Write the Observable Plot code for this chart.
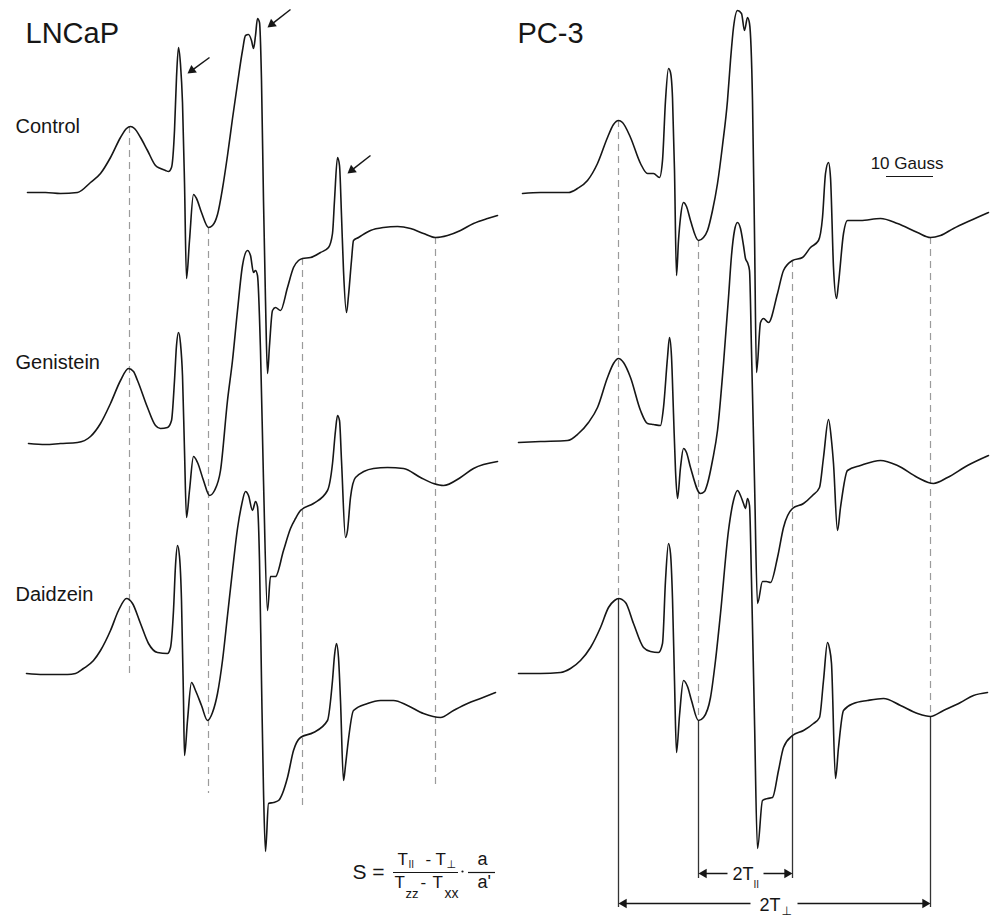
<!DOCTYPE html>
<html><head><meta charset="utf-8">
<script src="https://cdn.jsdelivr.net/npm/d3@7"></script>
<script src="https://cdn.jsdelivr.net/npm/@observablehq/plot@0.6"></script>
<style>html,body{margin:0;padding:0;background:#fff;} #chart{width:992px;height:916px;}</style>
</head><body><div id="chart"></div>
<script>
// ---------- DATA ----------
const panels = ["LNCaP", "PC-3"];
const treatments = ["Control", "Genistein", "Daidzein"];
// stacking level (baseline) of each spectrum, a.u.
const stackLNCaP = [724, 473, 242];
const stackPC3 = [724, 475, 243];
const labelLevels = [784, 548, 316];

// each spectrum: [field (a.u.), signal relative to its own baseline (a.u.)]
const lncapControl = [[27,0],[45,0],[60,-1],[77,0],[90,10],[100,19],[110,35],[120,55],[126,64],[130,66],[134,64],[140,55],[147,42],[155,27],[160,24],[165,22],[168,21],[171,25],[174,62],[176,115],[178,145],[180,128],[182,90],[184,10],[186,-86],[189,-48],[193,-2],[196,-6],[201,-20],[208,-35],[212,-33],[217,-22],[222,4],[227,37],[232,74],[237,109],[242,142],[245,157],[248,158],[251,152],[253,144],[255,157],[257,174],[259,170],[261,112],[263,-8],[265,-108],[267,-181],[269,-153],[272,-118],[275,-115],[280,-118],[287,-95],[293,-75],[298,-68],[302,-66],[310,-65],[320,-60],[328,-55],[332,-41],[334,-8],[337,35],[339,27],[341,-23],[343,-78],[346,-120],[348,-103],[351,-68],[353,-48],[358,-45],[370,-38],[383,-35],[397,-34],[410,-36],[423,-41],[435,-45],[447,-43],[460,-38],[473,-31],[487,-26],[497,-23]];
const lncapGenistein = [[28,0],[45,-1],[60,0],[77,1],[90,7],[100,20],[110,40],[120,63],[128,75],[133,72],[137,63],[147,36],[155,18],[160,15],[167,16],[171,23],[174,63],[176,98],[178,111],[180,100],[182,68],[184,-7],[186,-74],[189,-47],[193,-13],[197,-19],[203,-37],[209,-52],[214,-47],[220,-27],[227,43],[232,83],[237,133],[242,178],[247,193],[250,188],[253,171],[255,173],[257,168],[260,93],[263,-37],[267,-167],[270,-133],[275,-133],[283,-107],[290,-85],[295,-75],[300,-67],[313,-60],[327,-47],[332,-20],[335,13],[337,28],[339,23],[341,-17],[345,-94],[347,-87],[350,-54],[355,-34],[373,-25],[387,-24],[403,-25],[420,-34],[433,-40],[443,-42],[460,-34],[473,-25],[497,-18]];
const lncapDaidzein = [[26,1],[43,0],[67,0],[75,1],[83,6],[93,14],[100,24],[110,44],[118,64],[126,76],[132,71],[140,51],[148,31],[157,22],[167,21],[170,27],[173,64],[175,109],[177,129],[179,118],[181,74],[183,-26],[184,-81],[187,-46],[191,-8],[195,-16],[201,-31],[207,-46],[212,-38],[217,-19],[222,14],[227,59],[232,104],[237,146],[241,169],[245,183],[248,179],[252,164],[255,173],[257,168],[259,114],[261,-6],[263,-116],[265,-177],[268,-129],[273,-128],[278,-126],[287,-103],[293,-76],[300,-63],[313,-58],[327,-46],[332,-6],[334,19],[336,31],[338,17],[340,-26],[343,-106],[345,-91],[347,-73],[353,-36],[367,-29],[380,-26],[393,-26],[407,-31],[423,-39],[440,-43],[453,-36],[467,-29],[480,-24],[495,-18]];
const pc3Control = [[26,-1],[44,0],[72,0],[81,4],[91,12],[101,29],[111,55],[117,68],[122,72],[126,70],[134,55],[144,29],[151,19],[157,19],[163,15],[166,32],[169,92],[172,124],[174,120],[176,95],[178,22],[180,-83],[182,-48],[184,-25],[187,-10],[190,-14],[194,-28],[202,-48],[207,-45],[211,-38],[216,-18],[221,9],[226,47],[231,92],[234,132],[237,165],[241,182],[245,179],[248,162],[251,175],[253,169],[256,92],[258,-41],[260,-180],[264,-130],[267,-126],[272,-130],[281,-101],[287,-78],[296,-68],[306,-65],[314,-55],[322,-48],[326,-25],[329,19],[332,30],[334,15],[337,-75],[340,-106],[342,-91],[347,-41],[351,-28],[364,-28],[384,-26],[401,-31],[421,-40],[434,-45],[444,-43],[457,-36],[474,-28],[492,-20]];
const pc3Genistein = [[22,-1],[44,0],[71,1],[82,8],[92,19],[101,34],[111,64],[117,78],[122,83],[127,79],[134,64],[144,31],[151,18],[157,17],[164,16],[167,34],[171,84],[173,104],[175,85],[177,28],[179,-29],[181,-57],[184,-26],[187,-7],[190,-11],[194,-26],[204,-52],[208,-50],[211,-42],[216,-19],[221,11],[227,78],[232,144],[235,186],[238,211],[241,219],[244,213],[247,196],[249,183],[251,179],[253,171],[255,91],[258,-39],[261,-162],[266,-140],[270,-140],[274,-141],[281,-116],[287,-86],[296,-67],[307,-62],[316,-54],[323,-46],[327,-16],[332,22],[335,1],[337,-22],[341,-89],[344,-66],[351,-29],[364,-24],[384,-19],[401,-24],[421,-36],[437,-42],[451,-36],[471,-24],[492,-14]];
const pc3Daidzein = [[22,0],[44,0],[64,1],[74,5],[84,13],[94,26],[104,46],[112,66],[118,73],[122,75],[129,71],[137,50],[147,26],[154,22],[162,21],[166,30],[169,93],[172,130],[174,120],[176,75],[178,-7],[180,-79],[183,-42],[187,-7],[191,-13],[195,-27],[202,-47],[207,-44],[214,-24],[219,13],[224,60],[232,143],[237,173],[241,183],[244,178],[247,170],[249,165],[251,175],[253,168],[255,93],[258,-47],[261,-175],[266,-127],[271,-125],[276,-124],[282,-97],[287,-74],[296,-62],[307,-57],[317,-50],[323,-44],[327,-7],[331,31],[333,25],[335,10],[339,-105],[342,-74],[347,-37],[357,-30],[371,-27],[387,-25],[404,-32],[421,-40],[434,-43],[447,-37],[464,-29],[477,-22],[491,-19]];

// dashed guide lines (field, top level, bottom level)
const lncapGuideField = [129, 208, 302, 435];
const lncapGuideTop = [790, 689, 658, 679];
const lncapGuideBottom = [243, 123, 106, 128];
const pc3GuideField = [122, 202, 296, 434];
const pc3GuideTop = [796, 676, 656, 679];
const pc3GuideBottom = [318, 196, 181, 200];
// solid measurement brackets (PC-3)
const bracketBottom = [9, 38, 38, 9];
// measurement arrows: [from field, to field, level]
const measureArrows = [[231, 202, 43], [267, 296, 43], [254, 122, 13], [301, 434, 13]];
// pointer arrows on LNCaP control: [tail field, tail level, tip field, tip level]
const pointerArrows = [[209, 859, 187, 843], [290, 907, 267, 889], [370, 761, 347, 743]];
// scale bar: 10 Gauss
const scaleBar = {from: 390, to: 437, level: 740, label: "10 Gauss"};

// ---------- BUILD ----------
const spectra = [
  ["LNCaP", "Control", stackLNCaP[0], lncapControl],
  ["LNCaP", "Genistein", stackLNCaP[1], lncapGenistein],
  ["LNCaP", "Daidzein", stackLNCaP[2], lncapDaidzein],
  ["PC-3", "Control", stackPC3[0], pc3Control],
  ["PC-3", "Genistein", stackPC3[1], pc3Genistein],
  ["PC-3", "Daidzein", stackPC3[2], pc3Daidzein]
];
const rows = spectra.flatMap(([panel, t, level, pts]) =>
  pts.map(([field, s]) => ({panel, trace: panel + "/" + t, field, value: level + s})));

const guides = [
  ...lncapGuideField.map((f, i) => ({panel: "LNCaP", field: f, top: lncapGuideTop[i], bottom: lncapGuideBottom[i]})),
  ...pc3GuideField.map((f, i) => ({panel: "PC-3", field: f, top: pc3GuideTop[i], bottom: pc3GuideBottom[i]}))
];
const brackets = pc3GuideField.map((f, i) => ({panel: "PC-3", field: f, top: pc3GuideBottom[i], bottom: bracketBottom[i]}));

const arrows = [
  ...measureArrows.map(([a, b, l]) => ({panel: "PC-3", x1: a, y1: l, x2: b, y2: l})),
  ...pointerArrows.map(([a, la, b, lb]) => ({panel: "LNCaP", x1: a, y1: la, x2: b, y2: lb}))
];
const headR = 3.5;
const headTip = 2 * Math.sqrt(Math.PI * headR * headR / (3 * Math.sqrt(3)));
const heads = arrows.map(d => {
  const dx = d.x2 - d.x1, dy = d.y2 - d.y1, len = Math.hypot(dx, dy);
  return {panel: d.panel, x: d.x2 - headTip * dx / len, y: d.y2 - headTip * dy / len,
          rotate: Math.atan2(dx, dy) * 180 / Math.PI};
});
const shafts = arrows.map((d, i) => ({...d, x2: heads[i].x, y2: heads[i].y}));

const texts = [
  {panel: "LNCaP", text: "LNCaP", field: 25, level: 874, size: 29},
  {panel: "PC-3", text: "PC-3", field: 21, level: 874, size: 29},
  ...treatments.map((t, i) => ({panel: "LNCaP", text: t, field: 15, level: labelLevels[i], size: 20})),
  // order parameter formula
  {panel: "LNCaP", text: "S =", field: 352, level: 38, size: 21},
  {panel: "LNCaP", text: "T", field: 397, level: 52, size: 17},
  {panel: "LNCaP", text: "II", field: 408, level: 49, size: 10},
  {panel: "LNCaP", text: "-", field: 425, level: 52, size: 17},
  {panel: "LNCaP", text: "T", field: 435, level: 52, size: 17},
  {panel: "LNCaP", text: "⊥", field: 446, level: 49, size: 11},
  {panel: "LNCaP", text: "T", field: 394, level: 29, size: 17},
  {panel: "LNCaP", text: "zz", field: 405, level: 19, size: 13},
  {panel: "LNCaP", text: "-", field: 420, level: 29, size: 17},
  {panel: "LNCaP", text: "T", field: 432, level: 29, size: 17},
  {panel: "LNCaP", text: "xx", field: 444, level: 19, size: 14},
  {panel: "LNCaP", text: "a", field: 477, level: 52, size: 18},
  {panel: "LNCaP", text: "a'", field: 477, level: 29, size: 18},
  // measurement labels
  {panel: "PC-3", text: "2T", field: 236, level: 37, size: 18},
  {panel: "PC-3", text: "II", field: 257, level: 29, size: 10},
  {panel: "PC-3", text: "2T", field: 263, level: 6, size: 18},
  {panel: "PC-3", text: "⊥", field: 285, level: 2, size: 12}
];
const fractionBars = [
  {panel: "LNCaP", x1: 393, x2: 458, level: 44},
  {panel: "LNCaP", x1: 468, x2: 495, level: 44},
  {panel: "PC-3", x1: scaleBar.from, x2: scaleBar.to, level: scaleBar.level}
];

const ink = "#161616";
const chart = Plot.plot({
  width: 992, height: 916,
  marginTop: 0, marginRight: 0, marginBottom: 0, marginLeft: 0,
  style: {fontFamily: "'Liberation Sans', Arial, 'DejaVu Sans', sans-serif", background: "#fff", color: ink},
  fx: {domain: panels, paddingInner: 0, paddingOuter: 0, axis: null},
  x: {domain: [0, 496], axis: null},
  y: {domain: [0, 916], axis: null},
  marks: [
    Plot.ruleX(guides, {fx: "panel", x: "field", y1: "top", y2: "bottom", stroke: "#9b9b9b", strokeWidth: 1.2, strokeDasharray: "7,5"}),
    Plot.ruleX(brackets, {fx: "panel", x: "field", y1: "top", y2: "bottom", stroke: "#333", strokeWidth: 1.3}),
    Plot.line(rows, {fx: "panel", x: "field", y: "value", z: "trace", stroke: ink, strokeWidth: 1.6, curve: "monotone-x"}),
    Plot.link(shafts, {fx: "panel", x1: "x1", y1: "y1", x2: "x2", y2: "y2", stroke: ink, strokeWidth: 1.5}),
    Plot.dot(heads, {fx: "panel", x: "x", y: "y", rotate: "rotate", symbol: "triangle", r: headR, fill: ink, stroke: "none"}),
    Plot.ruleY(fractionBars, {fx: "panel", y: "level", x1: "x1", x2: "x2", stroke: ink, strokeWidth: 1.2}),
    Plot.dot([{panel: "LNCaP", x: 462, y: 45}], {fx: "panel", x: "x", y: "y", r: 1.1, fill: ink, stroke: "none"}),
    Plot.text(texts, {fx: "panel", x: "field", y: "level", text: "text", fontSize: d => d.size, textAnchor: "start", lineAnchor: "bottom", fill: ink}),
    Plot.text([{panel: "PC-3", x: (scaleBar.from + scaleBar.to) / 2 - 3, y: scaleBar.level + 8, t: scaleBar.label}], {fx: "panel", x: "x", y: "y", text: "t", fontSize: 17, textAnchor: "middle", lineAnchor: "bottom", fill: ink})
  ]
});
document.getElementById("chart").appendChild(chart);
</script>
</body></html>
